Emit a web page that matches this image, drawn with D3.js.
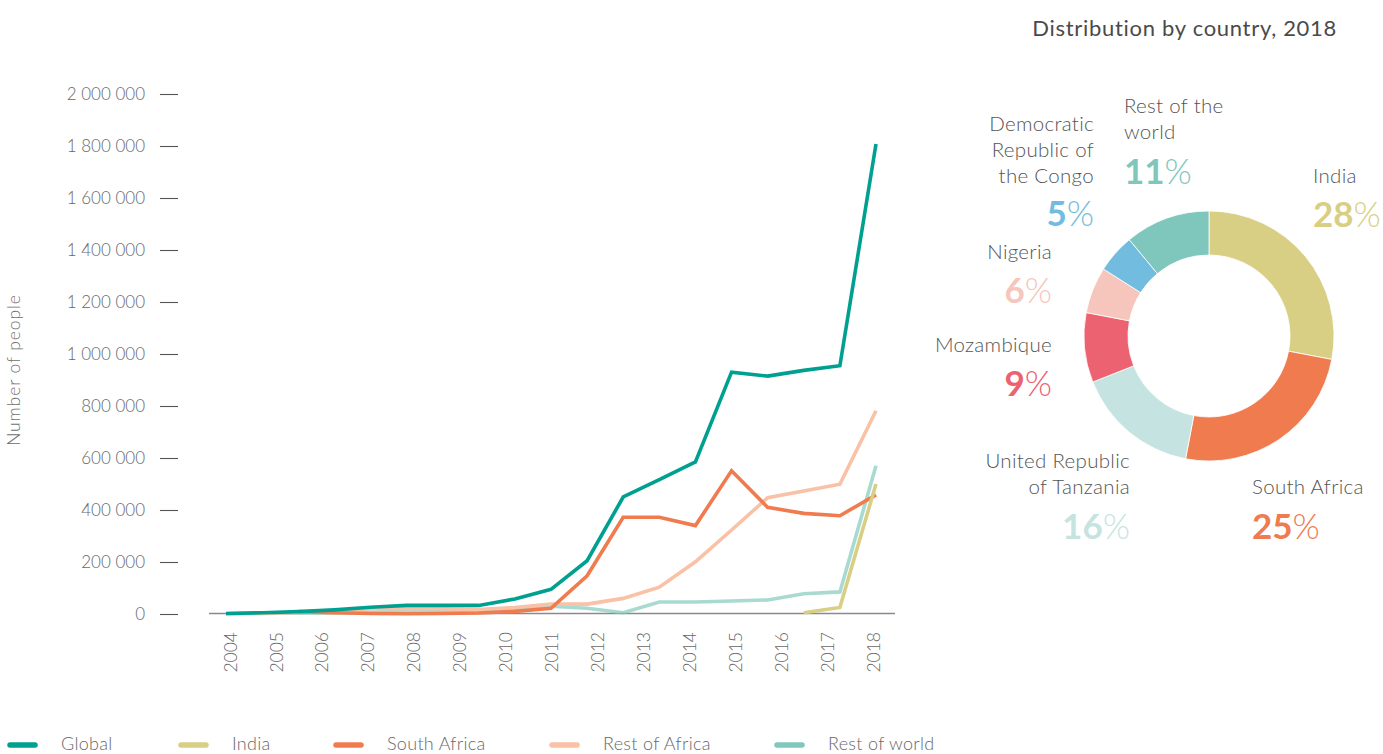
<!DOCTYPE html>
<html><head><meta charset="utf-8">
<script src="https://cdn.jsdelivr.net/npm/d3@7"></script>
<style>
body{margin:0;background:#fff;}
svg{display:block;font-family:Lato,"Open Sans",sans-serif;}
</style>
</head><body>
<svg id="c" width="1383" height="754"></svg>
<script>
// ---------- data ----------
const years = ["2004","2005","2006","2007","2008","2009","2010","2011","2012","2013","2014","2015","2016","2017","2018"];
const yTicks = [0,200000,400000,600000,800000,1000000,1200000,1400000,1600000,1800000,2000000];
// 19 evenly spaced observations drawn across the year axis (as in the source)
const globalVals      = [2000,5000,9000,16000,26000,33000,33000,33000,58000,95000,205000,450000,517000,585000,930000,915000,937000,955000,1808000];
const indiaVals       = [null,null,null,null,null,null,null,null,null,null,null,null,null,null,null,null,5000,25000,500000];
const southAfricaVals = [null,null,9000,5000,2000,1000,2000,4000,10000,22000,147000,372000,372000,340000,551000,410000,387000,378000,458000];
const restAfricaVals  = [2000,3000,6000,12000,20000,22000,20000,17000,25000,38000,38000,60000,103000,201000,323000,447000,473000,499000,782000];
const restWorldVals   = [1000,2000,4000,5000,7000,10000,12000,15000,22000,30000,22000,5000,46000,46000,50000,54000,78000,85000,570000];
const seriesNames  = ["Global","India","South Africa","Rest of Africa","Rest of world"];
const seriesColors = ["#00a091","#d8cf85","#ef7b4f","#f9c1a5","#80c8bd"];

const countries = ["India","South Africa","United Republic of Tanzania","Mozambique","Nigeria","Democratic Republic of the Congo","Rest of the world"];
const shares    = [28,25,16,9,6,5,11];
const countryColors = ["#d8cf85","#ef7b4f","#c5e4e1","#ec6270","#f6c5bb","#72bce0","#7fc6bc"];
const countryLines = [["India"],["South Africa"],["United Republic","of Tanzania"],["Mozambique"],["Nigeria"],["Democratic","Republic of","the Congo"],["Rest of the","world"]];

// ---------- layout ----------
const svg = d3.select("#c");
const textCol = "#686868";
const plot = {x0:226, x1:876, yTop:94, yBot:614};

const x = d3.scaleLinear().domain([0, globalVals.length-1]).range([plot.x0, plot.x1]);
const xYear = d3.scalePoint().domain(years).range([230, 873]);
const y = d3.scaleLinear().domain([0, 2000000]).range([plot.yBot, plot.yTop]);

// y axis ticks (labels + dash marks)
const fmt = v => d3.format(",")(v).replace(/,/g, " ");
const yAxis = d3.axisLeft(y).tickValues(yTicks).tickFormat(fmt).tickSize(18).tickPadding(15);
const gy = svg.append("g").attr("transform","translate(178,0)").call(yAxis);
gy.select(".domain").remove();
gy.selectAll(".tick line").attr("stroke","#555").attr("stroke-width",1.1);
gy.selectAll(".tick text").attr("fill",textCol).attr("font-size",17).attr("font-family","Lato, sans-serif").attr("font-weight",300);

// y title
svg.append("text").attr("transform","translate(20,370) rotate(-90)")
  .attr("text-anchor","middle").attr("fill","#707070").attr("font-size",17.5).attr("font-weight",300)
  .attr("letter-spacing",0.9)
  .text("Number of people");

// baseline
svg.append("line").attr("x1",209).attr("x2",895).attr("y1",y(0)-0.5).attr("y2",y(0)-0.5)
  .attr("stroke","#8a8a8a").attr("stroke-width",1.5);

// x labels
const xAxis = d3.axisBottom(xYear).tickSize(0).tickPadding(0);
const gx = svg.append("g").attr("transform","translate(0,632)").call(xAxis);
gx.select(".domain").remove();
gx.selectAll(".tick text")
  .attr("transform","rotate(-90)")
  .attr("text-anchor","end").attr("dy","0.35em").attr("x",0).attr("y",0)
  .attr("fill",textCol).attr("font-size",17.5).attr("font-weight",300).attr("font-family","Lato, sans-serif");

// lines
const allSeries = [globalVals, indiaVals, southAfricaVals, restAfricaVals, restWorldVals];
const line = d3.line().defined(d => d != null).x((d,i)=>x(i)).y(d=>y(d));
const drawOrder = [4,3,2,1,0];
drawOrder.forEach(k => {
  svg.append("path").datum(allSeries[k]).attr("d", line)
    .attr("fill","none").attr("stroke",seriesColors[k])
    .attr("stroke-opacity", k===4 ? 0.68 : 1)
    .attr("stroke-width",3.6).attr("stroke-linejoin","miter");
});

// legend
const legX = [7, 178, 333, 549, 774];
const leg = svg.append("g");
seriesNames.forEach((n,i)=>{
  leg.append("line").attr("x1",legX[i]+3).attr("x2",legX[i]+28).attr("y1",745).attr("y2",745)
    .attr("stroke",seriesColors[i]).attr("stroke-width",5.5).attr("stroke-linecap","round");
  leg.append("text").attr("x",legX[i]+54).attr("y",750).attr("fill",textCol)
    .attr("font-size",18).attr("font-weight",300).attr("letter-spacing",0.3).text(n);
});

// ---------- donut ----------
svg.append("text").attr("x",1337).attr("y",36).attr("text-anchor","end")
  .attr("fill","#4a4a4a").attr("font-size",22).attr("letter-spacing",0.7).text("Distribution by country, 2018");

const pie = d3.pie().sort(null).value(d=>d);
const arc = d3.arc().innerRadius(81).outerRadius(125);
const gd = svg.append("g").attr("transform","translate(1209,336)");
gd.selectAll("path").data(pie(shares)).join("path")
  .attr("d",arc).attr("fill",(d,i)=>countryColors[i])
  .attr("stroke","#fff").attr("stroke-width",0.8);

// label anchors: x, anchor, first-name baseline, percent baseline
const labelLayout = [
  {x:1313, a:"start", y:183, p:227},
  {x:1252, a:"start", y:494, p:539},
  {x:1130, a:"end",   y:468, p:539},
  {x:1052, a:"end",   y:352, p:396},
  {x:1052, a:"end",   y:259, p:303},
  {x:1094, a:"end",   y:131, p:226},
  {x:1124, a:"start", y:113, p:184}
];
countries.forEach((c,i)=>{
  const L = labelLayout[i];
  const t = svg.append("text").attr("text-anchor",L.a).attr("fill","#555")
    .attr("font-size",20.5).attr("font-weight",300).attr("letter-spacing",0.3);
  countryLines[i].forEach((s,j)=>{
    t.append("tspan").attr("x",L.x).attr("y",L.y + j*26).text(s);
  });
  const p = svg.append("text").attr("x",L.x).attr("y",L.p).attr("text-anchor",L.a)
    .attr("fill",countryColors[i]).attr("font-size",35);
  p.append("tspan").attr("font-weight",700).text(shares[i]);
  p.append("tspan").attr("font-weight",300).text("%");
});
</script>
</body></html>
